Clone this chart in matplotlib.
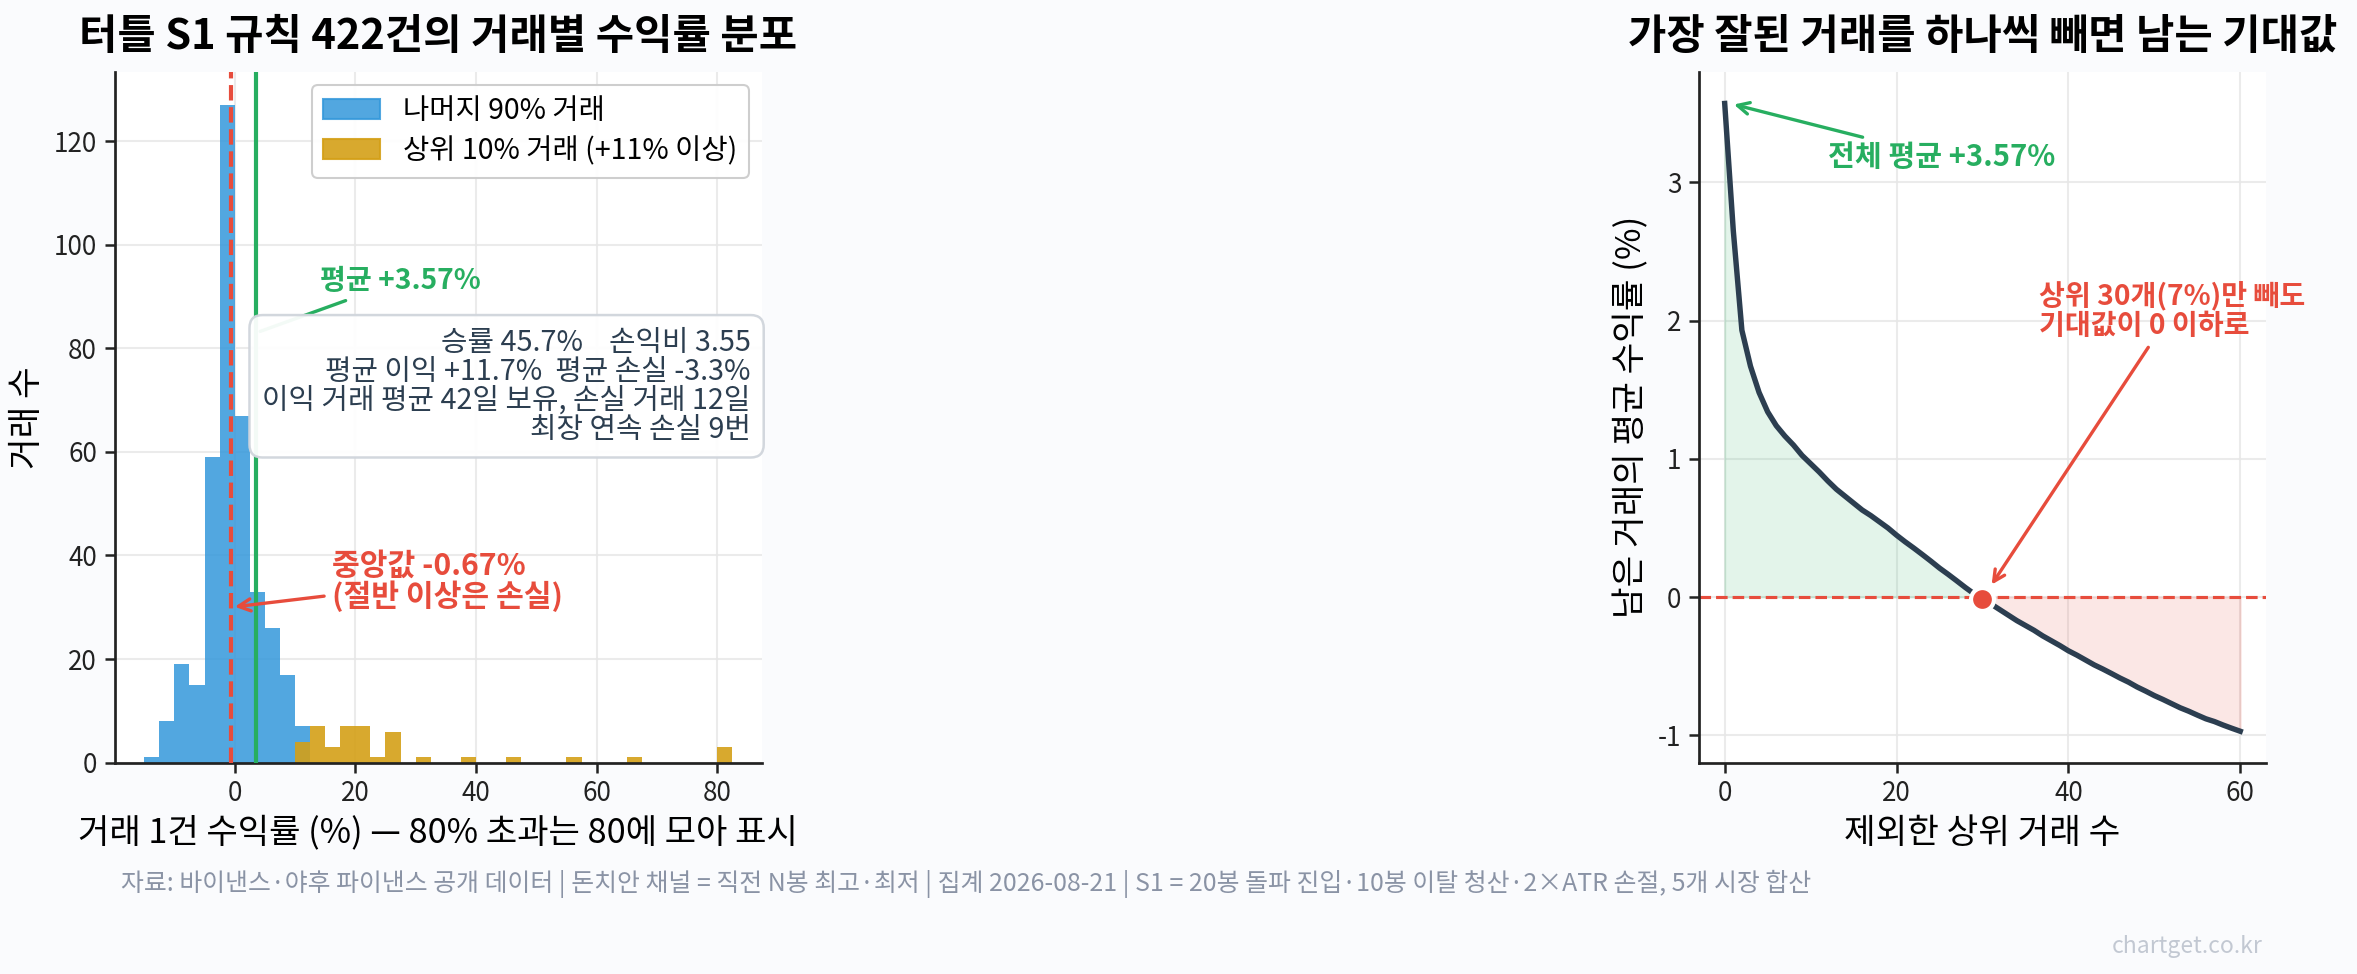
import matplotlib
matplotlib.use("Agg")
import matplotlib.pyplot as plt
from matplotlib.patches import Patch
import numpy as np

plt.rcParams['font.family'] = ['Noto Sans CJK KR', 'DejaVu Sans']
plt.rcParams['axes.unicode_minus'] = False

blue = "#3498db"
gold = "#d4a017"
green = "#27ae60"
red = "#e74c3c"
dark = "#2c3e50"
bg = "#fafbfd"

# histogram: left edge of each 2.5%p bin and trade counts
bin_width = 2.5
rest_left = [-15, -12.5, -10, -7.5, -5, -2.5, 0, 2.5, 5, 7.5, 10]
rest_count = [1, 8, 19, 15, 59, 127, 67, 33, 26, 17, 7]
top_left = [10, 12.5, 15, 17.5, 20, 22.5, 25, 30, 37.5, 45, 55, 65, 80]
top_count = [4, 7, 3, 7, 7, 1, 6, 1, 1, 1, 1, 1, 3]
mean_ret = 3.57
median_ret = -0.67

# remaining mean after removing the top k trades
removed = list(range(0, 61))
remain_mean = [3.57, 2.65, 1.93, 1.67, 1.48, 1.34, 1.24, 1.165, 1.10, 1.025,
               0.965, 0.905, 0.84, 0.78, 0.73, 0.68, 0.63, 0.59, 0.545, 0.50,
               0.448, 0.40, 0.355, 0.308, 0.26, 0.21, 0.165, 0.118, 0.07, 0.025,
               -0.01, -0.05, -0.09, -0.13, -0.17, -0.205, -0.24, -0.28, -0.315, -0.35,
               -0.388, -0.42, -0.455, -0.49, -0.52, -0.552, -0.585, -0.615, -0.65, -0.68,
               -0.712, -0.74, -0.77, -0.80, -0.825, -0.853, -0.88, -0.90, -0.925, -0.948,
               -0.97]

stats_text = ("승률 45.7%    손익비 3.55\n"
              "평균 이익 +11.7%  평균 손실 -3.3%\n"
              "이익 거래 평균 42일 보유, 손실 거래 12일\n"
              "최장 연속 손실 9번")
footer = ("자료: 바이낸스·야후 파이낸스 공개 데이터 | 돈치안 채널 = 직전 N봉 최고·최저 | "
          "집계 2026-08-21 | S1 = 20봉 돌파 진입·10봉 이탈 청산·2×ATR 손절, 5개 시장 합산")

fig = plt.figure(figsize=(2357 / 150, 974 / 150), dpi=150, facecolor=bg)
ax1 = fig.add_axes([0.0487, 0.217, 0.2745, 0.709])
ax2 = fig.add_axes([0.7208, 0.217, 0.2406, 0.709])


def style(ax):
    ax.set_facecolor("white")
    for s in ["top", "right"]:
        ax.spines[s].set_visible(False)
    for s in ["left", "bottom"]:
        ax.spines[s].set_color("#222222")
        ax.spines[s].set_linewidth(1.3)
    ax.grid(True, color="#e6e6e6", linewidth=1, alpha=0.8)
    ax.set_axisbelow(True)
    ax.tick_params(labelsize=12.5, length=5, width=1.2, colors="#222222")


# ---- left: histogram
style(ax1)
ax1.bar(rest_left, rest_count, width=bin_width, align="edge", color=blue, alpha=0.85,
        linewidth=0, label="나머지 90% 거래")
ax1.bar(top_left, top_count, width=bin_width, align="edge", color=gold, alpha=0.9,
        linewidth=0, label="상위 10% 거래 (+11% 이상)")
ax1.axvline(median_ret, color=red, linestyle="--", linewidth=2, zorder=3)
ax1.axvline(mean_ret, color=green, linewidth=2, zorder=3)
ax1.set_xticks([0, 20, 40, 60, 80])
ax1.set_yticks([0, 20, 40, 60, 80, 100, 120])
ax1.set_xlabel("거래 1건 수익률 (%) — 80% 초과는 80에 모아 표시", fontsize=16.4)
ax1.set_ylabel("거래 수", fontsize=16.5)
ax1.set_title("터틀 S1 규칙 422건의 거래별 수익률 분포", fontsize=20, fontweight="bold", pad=11)

ax1.annotate("평균 +3.57%", xy=(mean_ret, 83), xytext=(27.4, 93), ha="center", va="center",
             fontsize=13.5, fontweight="bold", color=green,
             arrowprops=dict(arrowstyle="-", color=green, lw=1.6))
ax1.annotate("중앙값 -0.67%\n(절반 이상은 손실)", xy=(median_ret, 30), xytext=(16.2, 35),
             ha="left", va="center", fontsize=14.5, fontweight="bold", color=red,
             linespacing=1.0,
             arrowprops=dict(arrowstyle="->", color=red, lw=1.6))
ax1.text(0.983, 0.545, stats_text, transform=ax1.transAxes, ha="right", va="center",
         ma="right", fontsize=13.8, color=dark, zorder=6, linespacing=0.95,
         bbox=dict(boxstyle="round,pad=0.45", fc="white", ec="#d0d5dc", lw=1.2, alpha=0.95))

handles = [Patch(color=blue, alpha=0.85, label="나머지 90% 거래"),
           Patch(color=gold, alpha=0.9, label="상위 10% 거래 (+11% 이상)")]
ax1.legend(handles=handles, loc="upper right", fontsize=13.7, framealpha=0.95,
           edgecolor="#cccccc", fancybox=True, labelspacing=0.35, borderaxespad=0.45)

# ---- right: remaining expectancy
style(ax2)
k = np.array(removed)
v = np.array(remain_mean)
ax2.fill_between(k, v, 0, where=v >= 0, interpolate=True, color=green, alpha=0.13)
ax2.fill_between(k, v, 0, where=v <= 0, interpolate=True, color=red, alpha=0.13)
ax2.plot(k, v, color=dark, linewidth=2.6, zorder=3)
ax2.axhline(0, color=red, linestyle="--", linewidth=1.5, zorder=2)
cross = int(np.argmax(v <= 0))
ax2.plot(k[cross], v[cross], "o", color=red, markersize=11, markeredgecolor="white",
         markeredgewidth=2, zorder=5)
ax2.set_xticks([0, 20, 40, 60])
ax2.set_yticks([-1, 0, 1, 2, 3])
ax2.set_xlabel("제외한 상위 거래 수", fontsize=16.5)
ax2.set_ylabel("남은 거래의 평균 수익률 (%)", fontsize=16.5)
ax2.set_title("가장 잘된 거래를 하나씩 빼면 남는 기대값", fontsize=20, fontweight="bold", pad=11)

ax2.annotate("전체 평균 +3.57%", xy=(0.6, v[0]), xytext=(25.3, 3.18), ha="center", va="center",
             fontsize=14, fontweight="bold", color=green,
             arrowprops=dict(arrowstyle="->", color=green, lw=1.6))
ax2.annotate("상위 30개(7%)만 빼도\n기대값이 0 이하로", xy=(k[cross], v[cross]),
             xytext=(52.1, 2.07), ha="center", va="center", ma="left",
             fontsize=13.5, fontweight="bold", color=red, linespacing=1.0,
             arrowprops=dict(arrowstyle="->", color=red, lw=1.6, shrinkB=8))

fig.text(0.0513, 0.0924, footer, fontsize=11.95, color="#8a93a5", ha="left", va="center")
fig.text(0.96, 0.028, "chartget.co.kr", fontsize=11, color="#c2c8d2", ha="right", va="center")

fig.savefig("out.png", dpi=150, facecolor=bg)
